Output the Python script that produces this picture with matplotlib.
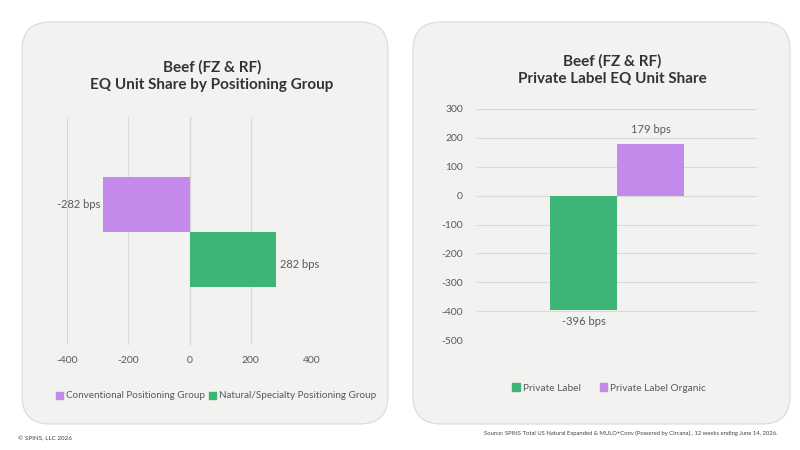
import matplotlib
matplotlib.use("Agg")
import matplotlib.pyplot as plt
from matplotlib.patches import FancyBboxPatch, Rectangle

plt.rcParams['font.family'] = ['Lato', 'DejaVu Sans']

# Data
left_title = "Beef (FZ & RF)\nEQ Unit Share by Positioning Group"
left_series = ["Conventional Positioning Group", "Natural/Specialty Positioning Group"]
left_values = [-282, 282]
left_ticks = [-400, -200, 0, 200, 400]

right_title = "Beef (FZ & RF)\nPrivate Label EQ Unit Share"
right_series = ["Private Label", "Private Label Organic"]
right_values = [-396, 179]
right_ticks = [300, 200, 100, 0, -100, -200, -300, -400, -500]

PURPLE = "#C38AEC"
GREEN = "#3DB576"
PANEL = "#F2F2F1"
GRID = "#D9D9D9"
TXT = "#595959"
TITLE = "#333333"

W, H = 800, 450
fig = plt.figure(figsize=(8, 4.5), dpi=100)
fig.patch.set_facecolor("white")

def px_box(x0, y0, x1, y1):
    return (x0 / W, 1 - y1 / H, (x1 - x0) / W, (y1 - y0) / H)

# Panels
for (x0, y0, x1, y1) in [(22, 22, 388, 424), (413, 22, 790, 424)]:
    l, b, w, h = px_box(x0, y0, x1, y1)
    fig.patches.append(FancyBboxPatch((l, b), w, h,
        boxstyle="round,pad=0,rounding_size=0.035", transform=fig.transFigure,
        facecolor=PANEL, edgecolor="#DADADA", linewidth=0.8, zorder=-5,
        mutation_aspect=W / H))

# Left chart
axL = fig.add_axes(px_box(67, 117, 312, 345))
axL.set_facecolor("none")
pos = [0.23, -0.25]
colorsL = [PURPLE, GREEN]
for p, v, c, s in zip(pos, left_values, colorsL, left_series):
    axL.barh(p, v, height=0.48, color=c, label=s, zorder=3)
    if v < 0:
        axL.text(v - 10, p, f"{v} bps", ha="right", va="center", fontsize=8, color=TXT)
    else:
        axL.text(v + 12, p - 0.04, f"{v} bps", ha="left", va="center", fontsize=8, color=TXT)
axL.set_xlim(-400, 400)
axL.set_ylim(-1, 1)
axL.set_xticks(left_ticks)
axL.set_xticklabels([str(t) for t in left_ticks])
axL.set_yticks([])
axL.grid(axis="x", color=GRID, linewidth=0.8, zorder=0)
axL.tick_params(axis="x", length=0, labelsize=7.5, labelcolor=TXT, pad=8)
for sp in axL.spines.values():
    sp.set_visible(False)
axL.axvline(0, color="#CFCFCF", linewidth=0.9, zorder=1)

handlesL = [Rectangle((0, 0), 1, 1, color=c) for c in colorsL]
fig.legend(handlesL, left_series, loc="center", bbox_to_anchor=(216 / W, 1 - 396 / H),
           ncol=2, frameon=False, fontsize=7.1, labelcolor=TXT,
           handlelength=0.7, handleheight=0.7, handletextpad=0.3, columnspacing=0.4)

fig.text(212 / W, 1 - 76 / H, left_title, ha="center", va="center", fontsize=11,
         fontweight="bold", color=TITLE, linespacing=1.35)

# Right chart
axR = fig.add_axes(px_box(477, 109, 757, 340))
axR.set_facecolor("none")
xpos = [-0.24, 0.24]
colorsR = [GREEN, PURPLE]
for p, v, c, s in zip(xpos, right_values, colorsR, right_series):
    axR.bar(p, v, width=0.48, color=c, label=s, zorder=3)
    if v < 0:
        axR.text(p, v - 20, f"{v} bps", ha="center", va="top", fontsize=8, color=TXT)
    else:
        axR.text(p, v + 32, f"{v} bps", ha="center", va="bottom", fontsize=8, color=TXT)
axR.set_ylim(-500, 300)
axR.set_xlim(-1, 1)
axR.set_yticks(right_ticks)
axR.set_yticklabels([str(t) for t in right_ticks])
axR.set_xticks([])
axR.grid(axis="y", color=GRID, linewidth=0.8, zorder=0)
axR.tick_params(axis="y", length=0, labelsize=7.5, labelcolor=TXT, pad=10)
for sp in axR.spines.values():
    sp.set_visible(False)

handlesR = [Rectangle((0, 0), 1, 1, color=c) for c in colorsR]
fig.legend(handlesR, right_series, loc="center", bbox_to_anchor=(609 / W, 1 - 388 / H),
           ncol=2, frameon=False, fontsize=7.3, labelcolor=TXT,
           handlelength=0.7, handleheight=0.7, handletextpad=0.3, columnspacing=1.9)

fig.text(612 / W, 1 - 70 / H, right_title, ha="center", va="center", fontsize=11,
         fontweight="bold", color=TITLE, linespacing=1.35)

# Footers
fig.text(18 / W, 1 - 439 / H, "© SPINS, LLC 2026", ha="left", va="center",
         fontsize=4.5, color="#404040")
fig.text(777 / W, 1 - 433 / H,
         "Source: SPINS Total US Natural Expanded & MULO+Conv (Powered by Circana)., 12 weeks ending June 14, 2026.",
         ha="right", va="center", fontsize=4.2, color="#404040")

fig.savefig("out.png", dpi=100, facecolor="white")
